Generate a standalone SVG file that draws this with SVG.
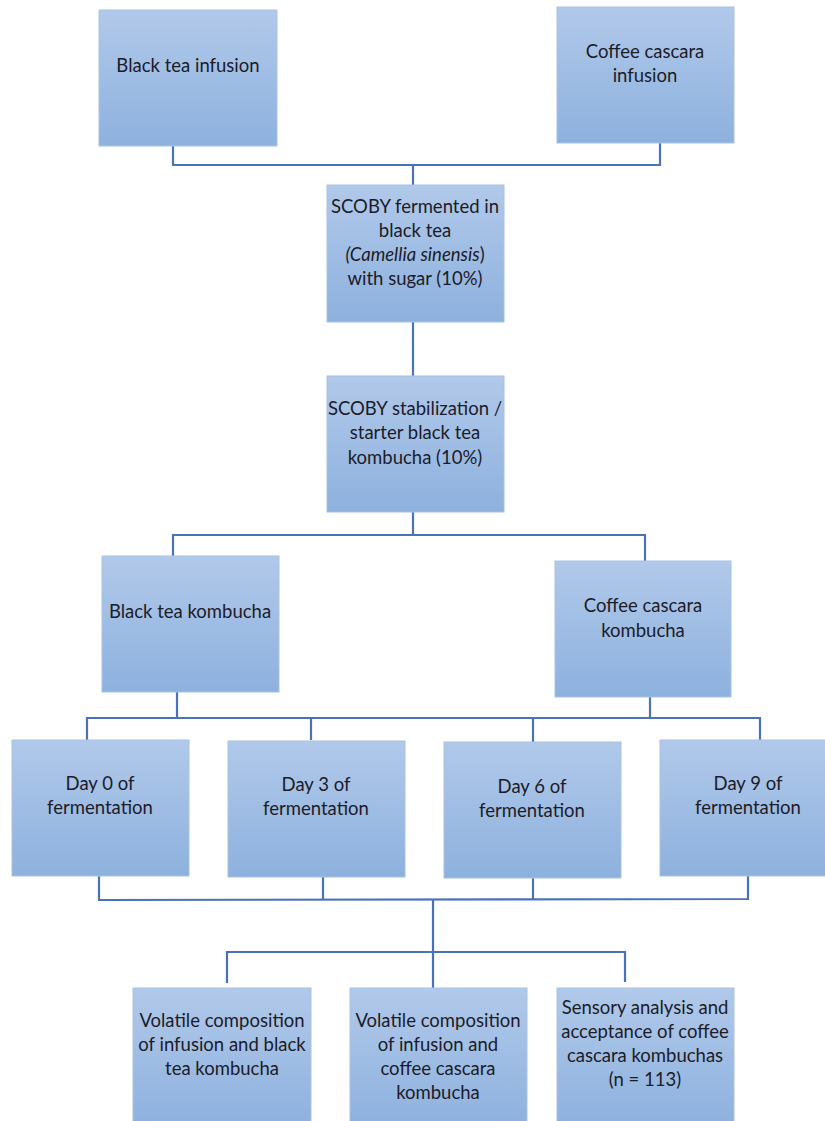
<svg xmlns="http://www.w3.org/2000/svg" width="825" height="1121" viewBox="0 0 825 1121">
<defs>
<linearGradient id="g" x1="0" y1="0" x2="0" y2="1">
<stop offset="0" stop-color="#b1c9ea"/>
<stop offset="1" stop-color="#8db1de"/>
</linearGradient>
<style>
.box{fill:url(#g);stroke:#a9c2e2;stroke-width:1}
.t{font-family:Lato,"Open Sans",sans-serif;font-size:18.5px;fill:#1c1c28;text-anchor:middle}
.c{fill:none;stroke:#4a72b8;stroke-width:2.2}
</style>
</defs>
<rect width="825" height="1121" fill="#ffffff"/>
<g id="connectors">
<polyline class="c" points="173,146 173,165 660,165 660,143"/>
<line class="c" x1="413" y1="165" x2="413" y2="185"/>
<line class="c" x1="413" y1="322" x2="413" y2="376"/>
<polyline class="c" points="413,512 413,535"/>
<polyline class="c" points="173,556 173,535 645,535 645,561"/>
<polyline class="c" points="177,692 177,718"/>
<polyline class="c" points="650,697 650,718"/>
<polyline class="c" points="87,740 87,718 760,718 760,740"/>
<line class="c" x1="311" y1="718" x2="311" y2="740"/>
<line class="c" x1="533" y1="718" x2="533" y2="742"/>
<polyline class="c" points="99,876 99,900 748,899 748,876"/>
<line class="c" x1="323" y1="877" x2="323" y2="900"/>
<line class="c" x1="533" y1="878" x2="533" y2="899"/>
<line class="c" x1="433" y1="899" x2="433" y2="988"/>
<polyline class="c" points="227,983 227,952 625,952 625,982"/>
</g>
<g id="black-tea-infusion">
<rect class="box" x="99" y="10" width="178" height="136"/>
<text class="t" x="188" y="72">Black tea infusion</text>
</g>
<g id="coffee-cascara-infusion">
<rect class="box" x="557" y="7" width="177" height="136"/>
<text class="t" x="645" y="58">Coffee cascara</text>
<text class="t" x="645" y="82">infusion</text>
</g>
<g id="scoby-fermented">
<rect class="box" x="327" y="185" width="177" height="137"/>
<text class="t" x="415" y="213">SCOBY fermented in</text>
<text class="t" x="415" y="237">black tea</text>
<text class="t" x="415" y="261"><tspan font-style="italic">(Camellia sinensis</tspan>)</text>
<text class="t" x="415" y="285">with sugar (10%)</text>
</g>
<g id="scoby-stabilization">
<rect class="box" x="327" y="376" width="177" height="136"/>
<text class="t" x="415" y="415">SCOBY stabilization /</text>
<text class="t" x="415" y="439">starter black tea</text>
<text class="t" x="415" y="464">kombucha (10%)</text>
</g>
<g id="black-tea-kombucha">
<rect class="box" x="102" y="556" width="177" height="136"/>
<text class="t" x="190" y="618">Black tea kombucha</text>
</g>
<g id="coffee-cascara-kombucha">
<rect class="box" x="555" y="561" width="176" height="136"/>
<text class="t" x="643" y="612">Coffee cascara</text>
<text class="t" x="643" y="637">kombucha</text>
</g>
<g id="day0">
<rect class="box" x="12" y="740" width="177" height="136"/>
<text class="t" x="100" y="790">Day 0 of</text>
<text class="t" x="100" y="814">fermentation</text>
</g>
<g id="day3">
<rect class="box" x="228" y="741" width="177" height="136"/>
<text class="t" x="316" y="791">Day 3 of</text>
<text class="t" x="316" y="815">fermentation</text>
</g>
<g id="day6">
<rect class="box" x="444" y="742" width="177" height="136"/>
<text class="t" x="532" y="793">Day 6 of</text>
<text class="t" x="532" y="817">fermentation</text>
</g>
<g id="day9">
<rect class="box" x="660" y="740" width="177" height="136"/>
<text class="t" x="748" y="790">Day 9 of</text>
<text class="t" x="748" y="814">fermentation</text>
</g>
<g id="volatile-black-tea">
<rect class="box" x="133" y="988" width="178" height="140"/>
<text class="t" x="222" y="1027">Volatile composition</text>
<text class="t" x="222" y="1051">of infusion and black</text>
<text class="t" x="222" y="1075">tea kombucha</text>
</g>
<g id="volatile-coffee-cascara">
<rect class="box" x="350" y="988" width="177" height="140"/>
<text class="t" x="438" y="1027">Volatile composition</text>
<text class="t" x="438" y="1051">of infusion and</text>
<text class="t" x="438" y="1075">coffee cascara</text>
<text class="t" x="438" y="1099">kombucha</text>
</g>
<g id="sensory-analysis">
<rect class="box" x="557" y="988" width="177" height="140"/>
<text class="t" x="645" y="1014">Sensory analysis and</text>
<text class="t" x="645" y="1038">acceptance of coffee</text>
<text class="t" x="645" y="1062">cascara kombuchas</text>
<text class="t" x="645" y="1086">(n = 113)</text>
</g>
</svg>
